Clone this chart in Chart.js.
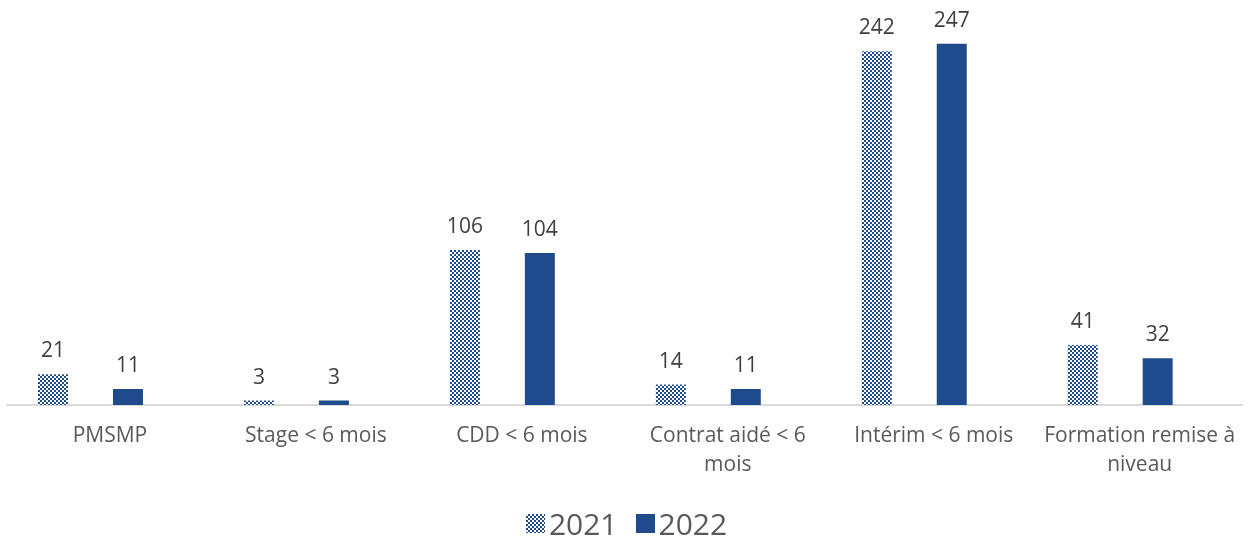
<!DOCTYPE html>
<html><head><meta charset="utf-8">
<script src="https://cdn.jsdelivr.net/npm/chart.js@4/dist/chart.umd.min.js"></script>
<style>
html,body{margin:0;padding:0;background:#fff;}
#wrap{position:relative;width:1253px;height:540px;}
#legend{position:absolute;left:0;width:1253px;top:503px;display:flex;justify-content:center;align-items:center;font-family:"Open Sans",sans-serif;font-size:30px;color:#595959;}
.item{display:flex;align-items:center;margin:0 9px;}
.box{width:19px;height:19px;margin-right:4px;}
.pat{background:repeating-conic-gradient(#1F4A8B 0 25%, #ffffff 0 50%) 0 0/4px 4px;}
</style></head>
<body><div id="wrap"><canvas id="c" width="1253" height="540"></canvas>
<div id="legend"></div></div>
<script>
const categories = ["PMSMP", "Stage < 6 mois", "CDD < 6 mois", ["Contrat aidé < 6", "mois"], "Intérim < 6 mois", ["Formation remise à", "niveau"]];
const seriesNames = ["2021", "2022"];
const values2021 = [21, 3, 106, 14, 242, 41];
const values2022 = [11, 3, 104, 11, 247, 32];

const BLUE = "#1F4A8B";
const pc = document.createElement("canvas");
pc.width = 4; pc.height = 4;
const pctx = pc.getContext("2d");
pctx.fillStyle = "#fff"; pctx.fillRect(0,0,4,4);
pctx.fillStyle = BLUE; pctx.fillRect(0,0,2,2); pctx.fillRect(2,2,2,2);
const ctx = document.getElementById("c").getContext("2d");
const pattern = ctx.createPattern(pc, "repeat");

const toPts = arr => arr.map((v,i)=>({x:i, y:v}));

const valueLabels = {
  id: "valueLabels",
  afterDatasetsDraw(chart) {
    const c = chart.ctx;
    c.save();
    c.font = '21px "Open Sans"';
    c.fillStyle = "#404040";
    c.textAlign = "center";
    c.textBaseline = "alphabetic";
    chart.data.datasets.forEach((ds, di) => {
      chart.getDatasetMeta(di).data.forEach((el, i) => {
        c.fillText(String(ds.data[i].y), el.x, el.y - 17);
      });
    });
    c.restore();
  }
};

new Chart(ctx, {
  type: "bar",
  data: {
    labels: categories,
    datasets: [
      { label: seriesNames[0], data: toPts(values2021), backgroundColor: pattern, xAxisID: "xb", categoryPercentage: 0.728, barPercentage: 0.4 },
      { label: seriesNames[1], data: toPts(values2022), backgroundColor: BLUE, xAxisID: "xb", categoryPercentage: 0.728, barPercentage: 0.4 }
    ]
  },
  options: {
    responsive: false,
    animation: false,
    events: [],
    layout: { padding: { left: 7, right: 10, top: 0, bottom: 0 } },
    plugins: { legend: { display: false }, tooltip: { enabled: false } },
    scales: {
      x: {
        type: "category",
        position: "bottom",
        grid: { display: false, drawTicks: false },
        border: { display: true, color: "#D9D9D9", width: 2 },
        ticks: { color: "#595959", font: { family: "Open Sans", size: 21, lineHeight: 1.35 }, padding: 17, maxRotation: 0, autoSkip: false },
        afterFit(scale) { scale.height = 135; }
      },
      xb: { type: "linear", display: false, offset: false, bounds: "data", grace: 0, min: -0.5 + 19.5/206, max: 5.5 + 19.5/206 },
      y: { display: false, min: 0, max: 277 }
    }
  },
  plugins: [valueLabels]
});

const lg = document.getElementById("legend");
seriesNames.forEach((n, i) => {
  const it = document.createElement("div"); it.className = "item";
  const b = document.createElement("div"); b.className = "box" + (i === 0 ? " pat" : "");
  if (i === 1) b.style.background = BLUE;
  const t = document.createElement("span"); t.textContent = n;
  it.appendChild(b); it.appendChild(t); lg.appendChild(it);
});
</script></body></html>
